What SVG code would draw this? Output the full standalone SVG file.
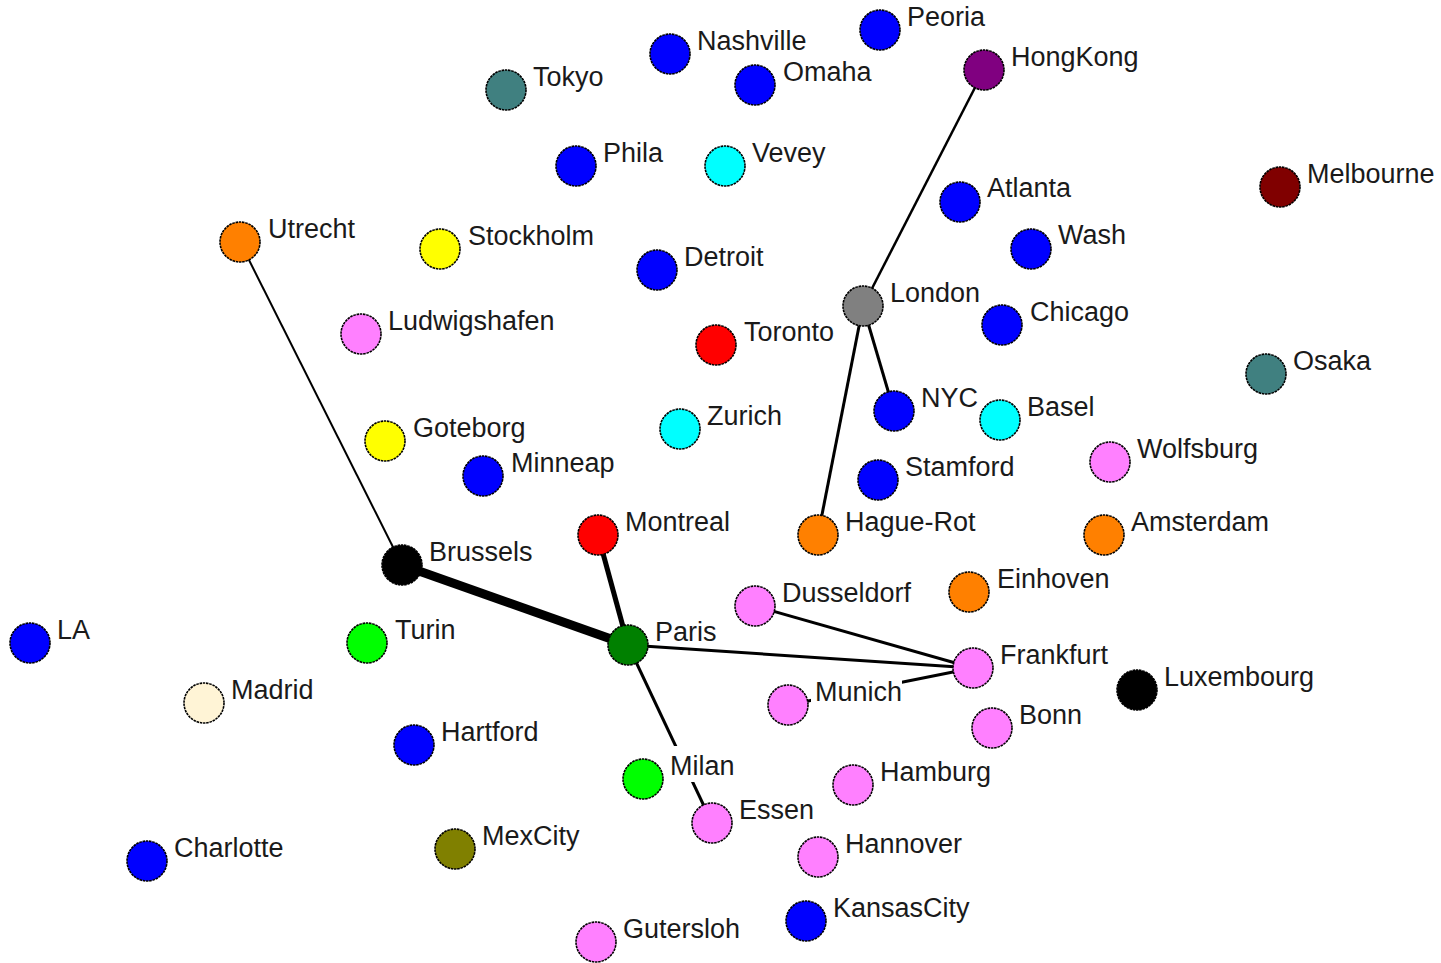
<svg xmlns="http://www.w3.org/2000/svg" width="1441" height="963" viewBox="0 0 1441 963">
<style>
circle{stroke:#000;stroke-width:1.6;stroke-dasharray:2.5 0.8}
text{font-family:"Liberation Sans",Arial,sans-serif;font-size:27px;fill:#1a1a1a}
.e{stroke:#000;fill:none;stroke-linecap:butt}
.bg{fill:#fff}
.b{fill:#0000ff}.c{fill:#00ffff}.t{fill:#408080}.o{fill:#ff8000}.y{fill:#ffff00}.v{fill:#ff80ff}.r{fill:#ff0000}
</style>
<rect width="1441" height="963" fill="#fff"/>
<g id="connectors">
<line class="e" x1="240" y1="242" x2="402" y2="565" stroke-width="2"/>
<line class="e" x1="402" y1="565" x2="628" y2="645" stroke-width="9"/>
<line class="e" x1="598" y1="535" x2="628" y2="645" stroke-width="5"/>
<line class="e" x1="628" y1="645" x2="973" y2="668" stroke-width="3"/>
<line class="e" x1="628" y1="645" x2="712" y2="823" stroke-width="3"/>
<line class="e" x1="755" y1="606" x2="973" y2="668" stroke-width="3"/>
<line class="e" x1="788" y1="705" x2="973" y2="668" stroke-width="3"/>
<line class="e" x1="863" y1="306" x2="984" y2="70" stroke-width="2.5"/>
<line class="e" x1="863" y1="306" x2="894" y2="411" stroke-width="3"/>
<line class="e" x1="863" y1="306" x2="818" y2="535" stroke-width="3"/>
</g>
<g id="Peoria"><circle class="b" cx="880" cy="30" r="20"/><text x="907" y="26">Peoria</text></g>
<g id="Nashville"><circle class="b" cx="670" cy="54" r="20"/><text x="697" y="50">Nashville</text></g>
<g id="Tokyo"><circle class="t" cx="506" cy="90" r="20"/><text x="533" y="86">Tokyo</text></g>
<g id="Omaha"><circle class="b" cx="755" cy="85" r="20"/><text x="783" y="81">Omaha</text></g>
<g id="HongKong"><circle cx="984" cy="70" r="20" fill="#800080"/><text x="1011" y="66">HongKong</text></g>
<g id="Phila"><circle class="b" cx="576" cy="166" r="20"/><text x="603" y="162">Phila</text></g>
<g id="Vevey"><circle class="c" cx="725" cy="166" r="20"/><text x="752" y="162">Vevey</text></g>
<g id="Melbourne"><circle cx="1280" cy="187" r="20" fill="#800000"/><text x="1307" y="183">Melbourne</text></g>
<g id="Atlanta"><circle class="b" cx="960" cy="202" r="20"/><text x="987" y="197">Atlanta</text></g>
<g id="Utrecht"><circle class="o" cx="240" cy="242" r="20"/><text x="268" y="238">Utrecht</text></g>
<g id="Stockholm"><circle class="y" cx="440" cy="249" r="20"/><text x="468" y="245">Stockholm</text></g>
<g id="Wash"><circle class="b" cx="1031" cy="249" r="20"/><text x="1058" y="244">Wash</text></g>
<g id="Detroit"><circle class="b" cx="657" cy="270" r="20"/><text x="684" y="266">Detroit</text></g>
<g id="London"><circle cx="863" cy="306" r="20" fill="#808080"/><text x="890" y="302">London</text></g>
<g id="Chicago"><circle class="b" cx="1002" cy="325" r="20"/><text x="1030" y="321">Chicago</text></g>
<g id="Ludwigshafen"><circle class="v" cx="361" cy="334" r="20"/><text x="388" y="330">Ludwigshafen</text></g>
<g id="Toronto"><circle class="r" cx="716" cy="345" r="20"/><text x="744" y="341">Toronto</text></g>
<g id="Osaka"><circle class="t" cx="1266" cy="374" r="20"/><text x="1293" y="370">Osaka</text></g>
<g id="NYC"><circle class="b" cx="894" cy="411" r="20"/><text x="921" y="407">NYC</text></g>
<g id="Basel"><circle class="c" cx="1000" cy="420" r="20"/><text x="1027" y="416">Basel</text></g>
<g id="Zurich"><circle class="c" cx="680" cy="429" r="20"/><text x="707" y="425">Zurich</text></g>
<g id="Goteborg"><circle class="y" cx="385" cy="441" r="20"/><text x="413" y="437">Goteborg</text></g>
<g id="Wolfsburg"><circle class="v" cx="1110" cy="462" r="20"/><text x="1137" y="458">Wolfsburg</text></g>
<g id="Minneap"><circle class="b" cx="483" cy="476" r="20"/><text x="511" y="472">Minneap</text></g>
<g id="Stamford"><circle class="b" cx="878" cy="480" r="20"/><text x="905" y="476">Stamford</text></g>
<g id="Montreal"><circle class="r" cx="598" cy="535" r="20"/><text x="625" y="531">Montreal</text></g>
<g id="Hague-Rot"><circle class="o" cx="818" cy="535" r="20"/><text x="845" y="531">Hague-Rot</text></g>
<g id="Amsterdam"><circle class="o" cx="1104" cy="535" r="20"/><text x="1131" y="531">Amsterdam</text></g>
<g id="Brussels"><circle cx="402" cy="565" r="20" fill="#000"/><text x="429" y="561">Brussels</text></g>
<g id="Einhoven"><circle class="o" cx="969" cy="592" r="20"/><text x="997" y="588">Einhoven</text></g>
<g id="Dusseldorf"><circle class="v" cx="755" cy="606" r="20"/><text x="782" y="602">Dusseldorf</text></g>
<g id="LA"><circle class="b" cx="30" cy="643" r="20"/><text x="57" y="639">LA</text></g>
<g id="Turin"><circle cx="367" cy="643" r="20" fill="#00ff00"/><text x="395" y="639">Turin</text></g>
<g id="Paris"><circle cx="628" cy="645" r="20" fill="#008000"/><text x="655" y="641">Paris</text></g>
<g id="Frankfurt"><circle class="v" cx="973" cy="668" r="20"/><text x="1000" y="664">Frankfurt</text></g>
<g id="Luxembourg"><circle cx="1137" cy="690" r="20" fill="#000"/><text x="1164" y="686">Luxembourg</text></g>
<g id="Munich"><circle class="v" cx="788" cy="705" r="20"/><rect class="bg" x="811" y="676" width="91" height="31"/><text x="815" y="701">Munich</text></g>
<g id="Madrid"><circle cx="204" cy="703" r="20" fill="#fff4d6"/><text x="231" y="699">Madrid</text></g>
<g id="Bonn"><circle class="v" cx="992" cy="728" r="20"/><text x="1019" y="724">Bonn</text></g>
<g id="Hartford"><circle class="b" cx="414" cy="745" r="20"/><text x="441" y="741">Hartford</text></g>
<g id="Milan"><circle cx="643" cy="779" r="20" fill="#00ff00"/><rect class="bg" x="667" y="746" width="70" height="36"/><text x="670" y="775">Milan</text></g>
<g id="Hamburg"><circle class="v" cx="853" cy="785" r="20"/><text x="880" y="781">Hamburg</text></g>
<g id="Essen"><circle class="v" cx="712" cy="823" r="20"/><text x="739" y="819">Essen</text></g>
<g id="MexCity"><circle cx="455" cy="849" r="20" fill="#808000"/><text x="482" y="845">MexCity</text></g>
<g id="Charlotte"><circle class="b" cx="147" cy="861" r="20"/><text x="174" y="857">Charlotte</text></g>
<g id="Hannover"><circle class="v" cx="818" cy="857" r="20"/><text x="845" y="853">Hannover</text></g>
<g id="KansasCity"><circle class="b" cx="806" cy="921" r="20"/><text x="833" y="917">KansasCity</text></g>
<g id="Gutersloh"><circle class="v" cx="596" cy="942" r="20"/><text x="623" y="938">Gutersloh</text></g>
</svg>
